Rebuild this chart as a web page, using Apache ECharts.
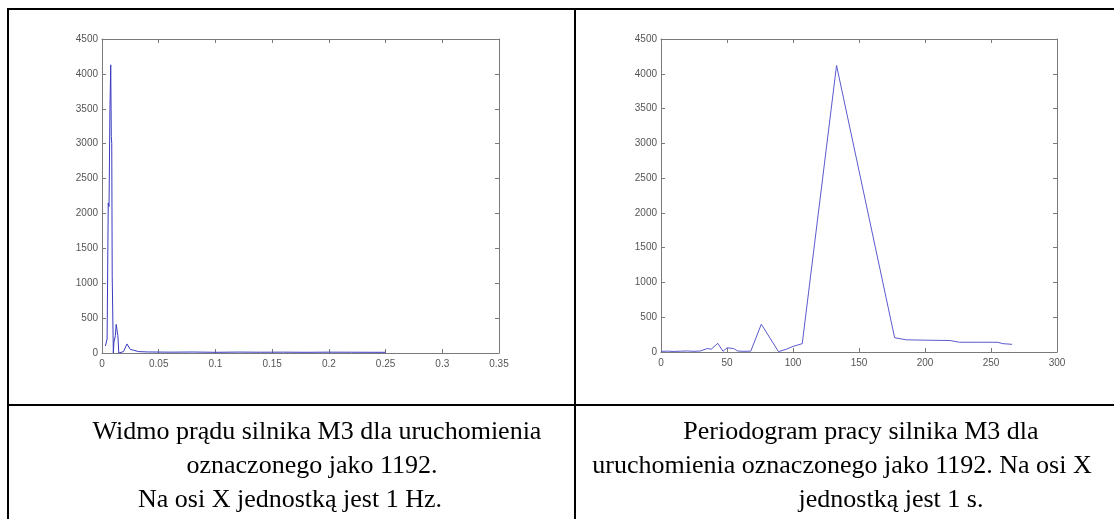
<!DOCTYPE html>
<html>
<head>
<meta charset="utf-8">
<script src="https://cdn.jsdelivr.net/npm/echarts@6/dist/echarts.min.js"></script>
<style>
  html, body { margin: 0; padding: 0; background: #fff; }
  #chart { width: 1114px; height: 519px; }
</style>
</head>
<body>
<div id="chart"></div>
<script>
// ---- Data ----
// Left: spectrum of motor current (x in Hz)
const spectrumFreq = [0.003, 0.0045, 0.0055, 0.0062, 0.0070, 0.0077, 0.0082, 0.0086, 0.0090, 0.0100, 0.0105, 0.0118, 0.0125, 0.0135, 0.0140, 0.0148, 0.0155, 0.019, 0.022, 0.025, 0.028, 0.032, 0.04, 0.06, 0.08, 0.10, 0.12, 0.14, 0.16, 0.18, 0.20, 0.22, 0.24, 0.25];
const spectrumAmp  = [100, 200, 2150, 2100, 3500, 4130, 3100, 3000, 1100, 0, 150, 250, 410, 300, 250, 0, 10, 20, 130, 50, 40, 20, 15, 12, 14, 10, 13, 11, 12, 10, 12, 11, 10, 10];
// Right: periodogram (x in seconds)
const periodSec = [0, 5, 10, 15, 20, 25, 30, 35, 38, 43, 47, 50, 55, 58, 62, 68, 76, 89, 95, 100, 107, 108.5, 133, 177, 186, 200, 219, 226, 240, 255, 259, 266];
const periodAmp = [10, 12, 8, 12, 15, 10, 15, 50, 40, 125, 10, 60, 50, 15, 10, 12, 400, 5, 40, 80, 120, 140, 4120, 205, 175, 170, 165, 140, 140, 140, 120, 110];
// Captions
const captionLeft  = ['Widmo prądu silnika M3 dla uruchomienia', 'oznaczonego jako 1192.', 'Na osi X jednostką jest 1 Hz.'];
const captionRight = ['Periodogram pracy silnika M3 dla', 'uruchomienia oznaczonego jako 1192. Na osi X', 'jednostką jest 1 s.'];
// layout of caption lines: [centre x, centre y]
const leftPos  = [[317, 432], [312, 466], [290, 500]];
const rightPos = [[861, 432], [842, 466], [891, 500]];

const zip = (a, b) => a.map((v, i) => [v, b[i]]);

const axisCol = '#7a7a7a';
const labelCol = '#555';
const labelFont = { color: labelCol, fontSize: 10, fontFamily: 'Arial, Liberation Sans', formatter: v => String(v) };

function xAx(grid, max, interval, top) {
  return {
    type: 'value', gridIndex: grid, min: 0, max: max, interval: interval,
    position: top ? 'top' : 'bottom',
    axisLine: { show: true, onZero: false, lineStyle: { color: axisCol, width: 1 } },
    axisTick: { show: true, inside: true, length: 4, lineStyle: { color: axisCol } },
    axisLabel: top ? { show: false } : Object.assign({ margin: 6 }, labelFont),
    splitLine: { show: false }
  };
}
function yAx(grid, right) {
  return {
    type: 'value', gridIndex: grid, min: 0, max: 4500, interval: 500,
    position: right ? 'right' : 'left',
    axisLine: { show: true, onZero: false, lineStyle: { color: axisCol, width: 1 } },
    axisTick: { show: true, inside: true, length: 4, lineStyle: { color: axisCol } },
    axisLabel: right ? { show: false } : Object.assign({ margin: 4 }, labelFont),
    splitLine: { show: false }
  };
}

const capFont = '26px "Liberation Serif", "Times New Roman", serif';

const graphics = [];
const L = (x1, y1, x2, y2) => ({ type: 'line', shape: { x1, y1, x2, y2 }, style: { stroke: '#000', lineWidth: 2 }, silent: true });
graphics.push(L(8, 8, 8, 519));
graphics.push(L(7, 9, 1114, 9));
graphics.push(L(575, 8, 575, 519));
graphics.push(L(7, 405, 1114, 405));
function addCaption(t, pos) {
  graphics.push({
    type: 'text', x: pos[0], y: pos[1],
    style: { text: t, fill: '#000', font: capFont, textAlign: 'center', textVerticalAlign: 'middle' }
  });
}
captionLeft.forEach((t, i) => addCaption(t, leftPos[i]));
captionRight.forEach((t, i) => addCaption(t, rightPos[i]));

const chart = echarts.init(document.getElementById('chart'), null, { renderer: 'canvas' });
chart.setOption({
  backgroundColor: '#fff',
  animation: false,
  grid: [
    { left: 102, top: 39, width: 397, height: 314 },
    { left: 661, top: 39, width: 396, height: 313 }
  ],
  xAxis: [ xAx(0, 0.35, 0.05, false), xAx(1, 300, 50, false), xAx(0, 0.35, 0.05, true), xAx(1, 300, 50, true) ],
  yAxis: [ yAx(0, false), yAx(1, false), yAx(0, true), yAx(1, true) ],
  series: [
    { type: 'line', xAxisIndex: 0, yAxisIndex: 0, data: zip(spectrumFreq, spectrumAmp), showSymbol: false, lineStyle: { color: '#3a3ac0', width: 1 } },
    { type: 'line', xAxisIndex: 1, yAxisIndex: 1, data: zip(periodSec, periodAmp), showSymbol: false, lineStyle: { color: '#5a5ad0', width: 1 } }
  ],
  graphic: graphics
});
</script>
</body>
</html>
